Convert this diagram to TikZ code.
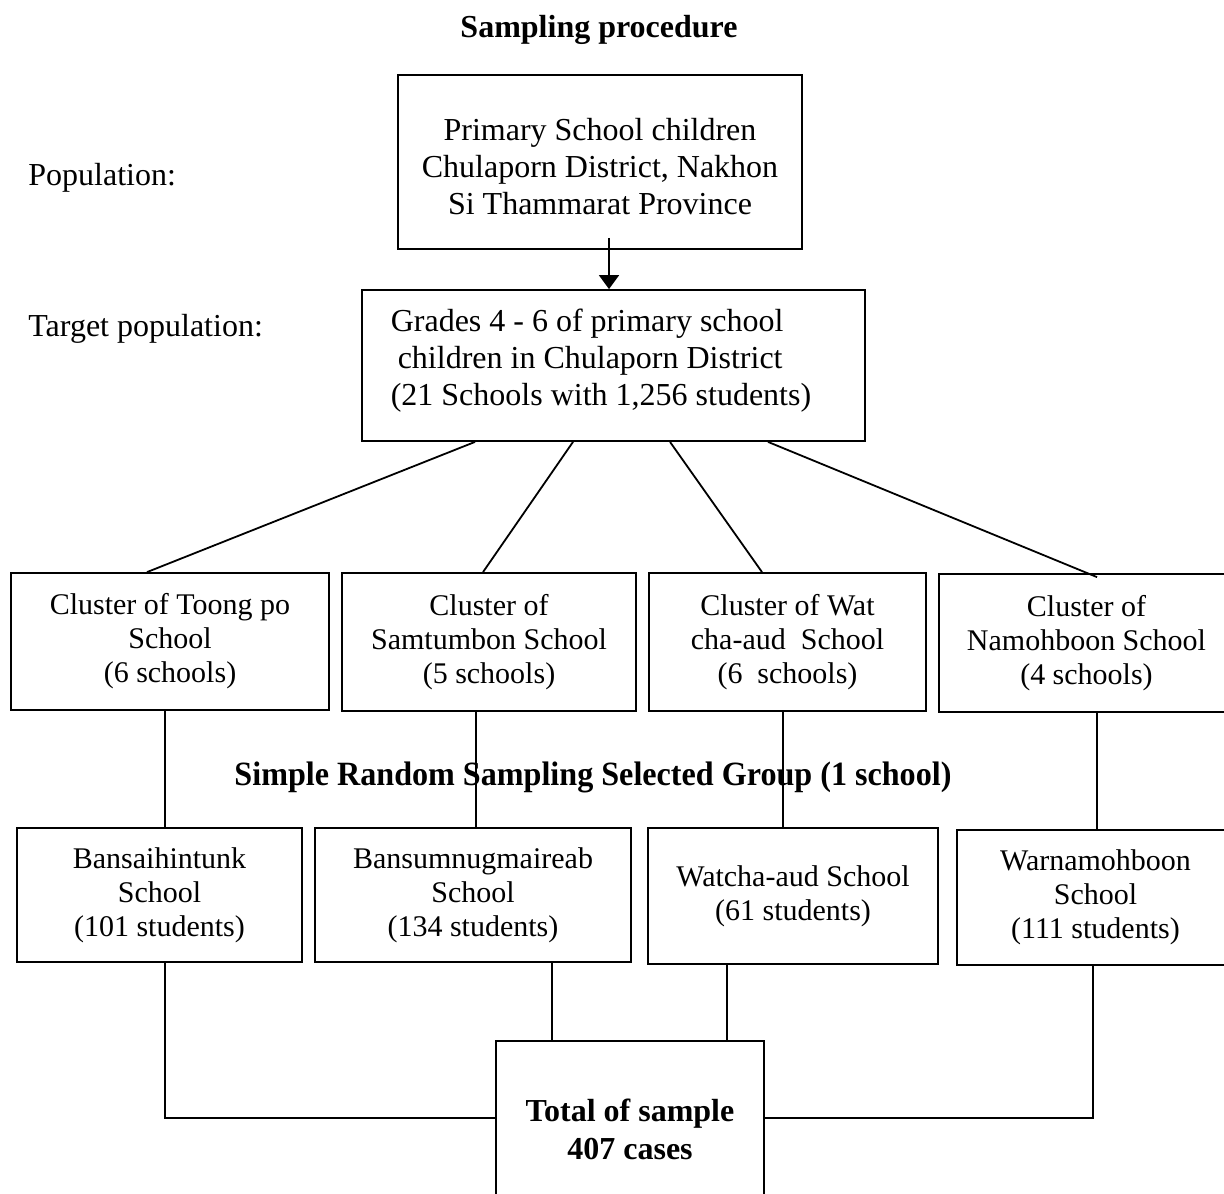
\documentclass[tikz,border=0pt]{standalone}
\usepackage{fontspec}
\setmainfont{Liberation Serif}
\usetikzlibrary{arrows.meta,calc}
\begin{document}
\begin{tikzpicture}[x=0.5pt,y=-0.5pt,
  box/.style={draw,line width=0.9pt,align=center,inner sep=0pt,
    font=\fontsize{16}{18.5}\selectfont},
  txt/.style={inner sep=0pt,font=\fontsize{16}{18.5}\selectfont},
  cbox/.style={box,font=\fontsize{15}{17}\selectfont},
  lab/.style={anchor=west,inner sep=0pt,font=\fontsize{16}{18}\selectfont},
  conn/.style={line width=0.9pt}]
\useasboundingbox (0,0) rectangle (1224,1193);
\node[inner sep=0pt,font=\fontsize{16}{18}\selectfont\bfseries] (title) at (599,30) {Sampling procedure};
\node[box,minimum width=202pt,minimum height=87pt] (top) at (600,162) {};
\node[txt,align=center] (topt) at (600,167)
  {Primary School children\\Chulaporn District, Nakhon\\Si Thammarat Province};
\node[box,minimum width=251.5pt,minimum height=75.5pt] (tgt) at (613.5,365.5) {};
\node[txt,align=left] (tgtt) at (601,361)
  {Grades 4 - 6 of primary school\\\hspace{3.5pt}children in Chulaporn District\\(21 Schools with 1,256 students)};
\node[lab] (pop) at (28,178) {Population:};
\node[lab] (tpop) at (28,329) {Target population:};
% clusters
\node[cbox,minimum width=159pt,minimum height=68.5pt] (c1) at (170,641.5)
  {Cluster of Toong po\\School\\(6 schools)};
\node[cbox,minimum width=147pt,minimum height=69pt] (c2) at (489,642)
  {Cluster of\\Samtumbon School\\(5 schools)};
\node[cbox,minimum width=138.5pt,minimum height=69pt] (c3) at (787.5,642)
  {Cluster of Wat\\cha-aud\ \ School\\(6\ \ schools)};
\node[cbox,minimum width=147.5pt,minimum height=69pt] (c4) at (1086.5,643)
  {Cluster of\\Namohboon School\\(4 schools)};
% bottom boxes
\node[cbox,minimum width=142.5pt,minimum height=67pt] (b1) at (159.5,895)
  {Bansaihintunk\\School\\(101 students)};
\node[cbox,minimum width=158pt,minimum height=67pt] (b2) at (473,895)
  {Bansumnugmaireab\\School\\(134 students)};
\node[cbox,minimum width=145pt,minimum height=68pt] (b3) at (793,896)
  {Watcha-aud School\\(61 students)};
\node[cbox,minimum width=138.5pt,minimum height=67.5pt] (b4) at (1095.5,897.5)
  {Warnamohboon\\School\\(111 students)};
\node[box,minimum width=134pt,minimum height=88pt,font=\fontsize{16}{19}\selectfont\bfseries] (tot) at (630,1129)
  {Total of sample\\407 cases};
% middle label
\node[inner sep=0pt,font=\fontsize{17}{19}\selectfont\bfseries] (srs) at (593,777)
  {\scalebox{0.945}[1]{Simple Random Sampling Selected Group (1 school)}};
% guides
\coordinate (ax) at (609,0);
\coordinate (v1) at (165,0);
\coordinate (v2) at (476,0);
\coordinate (v3) at (783,0);
\coordinate (v4) at (1097,0);
\coordinate (w2) at (552,0);
\coordinate (w3) at (727,0);
\coordinate (w4) at (1093,0);
\coordinate (hy) at (0,1118);
% connectors
\draw[conn,-{Triangle[width=10pt,length=7pt]}] ($(top.south -| ax)+(0,-12)$) -- (tgt.north -| ax);
\draw[conn] ($(tgt.south)+(-138.5,0)$) -- ($(c1.north)+(-23,0)$);
\draw[conn] ($(tgt.south)+(-40.5,0)$) -- ($(c2.north)+(-6,0)$);
\draw[conn] ($(tgt.south)+(56.5,0)$) -- ($(c3.north)+(-25.5,0)$);
\draw[conn] ($(tgt.south)+(154.5,0)$) -- ($(c4.north)+(10.5,4)$);
\draw[conn] (c1.south -| v1) -- (b1.north -| v1);
\draw[conn] (c2.south -| v2) -- (b2.north -| v2);
\draw[conn] (c3.south -| v3) -- (b3.north -| v3);
\draw[conn] (c4.south -| v4) -- (b4.north -| v4);
\draw[conn] (b1.south -| v1) |- (tot.west |- hy);
\draw[conn] (b2.south -| w2) -- (tot.north -| w2);
\draw[conn] (b3.south -| w3) -- (tot.north -| w3);
\draw[conn] (b4.south -| w4) |- (tot.east |- hy);
\end{tikzpicture}
\end{document}
